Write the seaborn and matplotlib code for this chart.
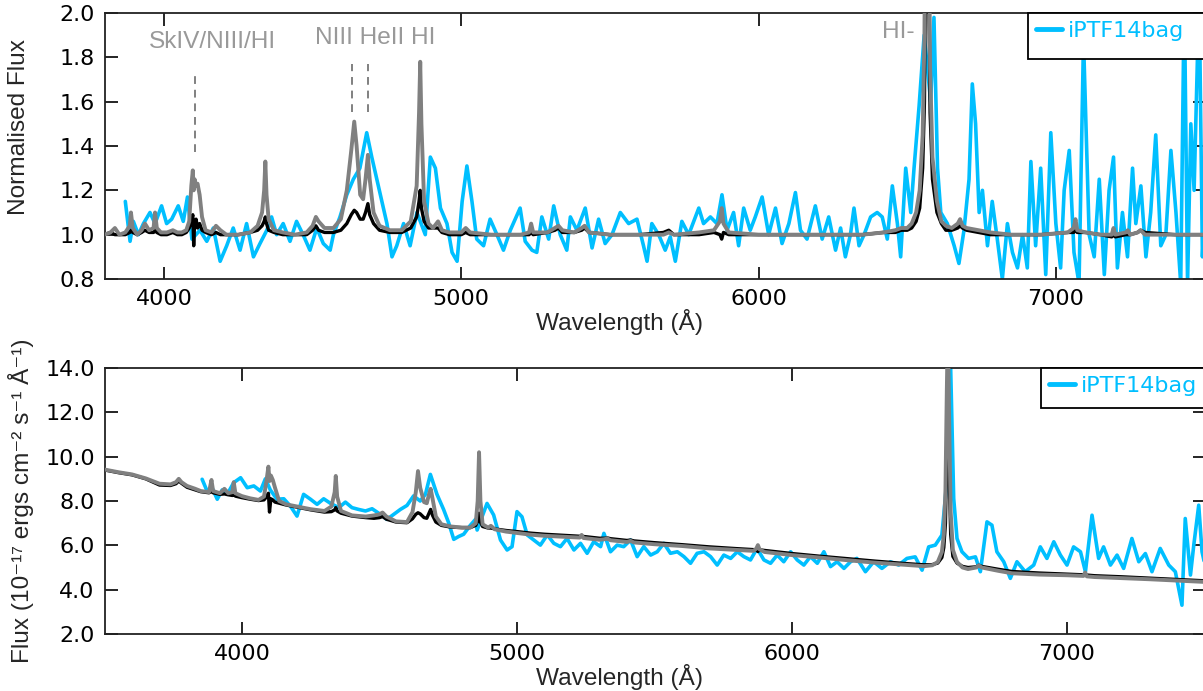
import matplotlib
matplotlib.use("Agg")
import matplotlib.pyplot as plt
from matplotlib.patches import Rectangle
import seaborn as sns

# ---------------- data: top panel (normalised) ----------------
top_obs_wl = [3870, 3886, 3897, 3914, 3931, 3953, 3970, 3992, 4009, 4026, 4048, 4065, 4079, 4094, 4121, 4144,
              4166, 4189, 4211, 4233, 4256, 4278, 4301, 4323, 4346, 4362, 4379, 4401, 4424, 4446, 4468, 4491,
              4514, 4536, 4559, 4570, 4592, 4615, 4637, 4659, 4682, 4699, 4716, 4733, 4750, 4767, 4783, 4806,
              4828, 4851, 4879, 4896, 4913, 4930, 4952, 4969, 4986, 5003, 5019, 5036, 5052, 5075, 5097, 5120,
              5142, 5165, 5198, 5215, 5238, 5254, 5271, 5294, 5311, 5333, 5355, 5367, 5389, 5417, 5440, 5462,
              5484, 5507, 5535, 5563, 5591, 5613, 5625, 5641, 5664, 5686, 5703, 5720, 5742, 5765, 5799, 5815,
              5838, 5860, 5877, 5894, 5916, 5933, 5950, 5972, 5989, 6012, 6034, 6057, 6079, 6102, 6124, 6141,
              6163, 6191, 6214, 6236, 6259, 6276, 6292, 6309, 6321, 6338, 6355, 6377, 6399, 6416, 6433, 6450,
              6467, 6478, 6495, 6512, 6523, 6540, 6557, 6579, 6590, 6602, 6613, 6635, 6658, 6674, 6691, 6708,
              6719, 6730, 6742, 6753, 6770, 6786, 6803, 6820, 6837, 6854, 6871, 6888, 6904, 6916, 6932, 6949,
              6966, 6983, 7000, 7016, 7028, 7045, 7061, 7078, 7093, 7112, 7129, 7146, 7163, 7179, 7194, 7207,
              7224, 7241, 7258, 7269, 7286, 7303, 7319, 7336, 7353, 7370, 7387, 7404, 7420, 7432, 7443, 7454,
              7465, 7482, 7493, 7500]
top_obs_flux = [1.15, 0.97, 1.06, 1.00, 1.05, 1.10, 1.05, 1.13, 1.05, 1.07, 1.13, 1.06, 1.17, 0.98, 1.02, 0.97,
                1.03, 0.88, 0.95, 1.03, 0.93, 1.05, 0.90, 0.96, 1.02, 1.08, 1.00, 1.05, 0.97, 1.06, 1.00, 0.93,
                1.03, 0.96, 0.93, 1.00, 1.08, 1.18, 1.25, 1.30, 1.46, 1.35, 1.25, 1.15, 1.05, 0.90, 0.95, 1.05,
                0.95, 1.10, 1.00, 1.35, 1.30, 1.12, 1.05, 0.92, 0.88, 1.15, 1.31, 1.15, 0.98, 0.95, 1.07, 1.00,
                0.93, 1.02, 1.12, 0.97, 0.93, 0.92, 1.08, 0.98, 1.13, 1.00, 0.93, 1.08, 1.02, 1.12, 0.94, 1.07,
                0.96, 1.00, 1.10, 1.05, 1.07, 0.95, 0.88, 1.05, 1.00, 0.93, 0.99, 0.88, 1.06, 1.00, 1.12, 1.05,
                1.08, 1.05, 1.18, 1.02, 1.10, 0.95, 1.12, 1.02, 1.08, 1.17, 1.00, 1.12, 0.96, 1.05, 1.19, 1.02,
                0.98, 1.13, 0.98, 1.08, 0.93, 1.03, 0.90, 1.00, 1.12, 0.95, 1.00, 1.08, 1.10, 1.08, 0.98, 1.22,
                1.05, 0.90, 1.30, 1.10, 1.30, 1.58, 1.90, 1.60, 1.98, 1.30, 1.10, 1.05, 0.95, 0.87, 1.02, 1.25,
                1.68, 1.50, 1.10, 1.20, 0.95, 1.15, 0.98, 0.80, 1.05, 0.92, 0.85, 1.00, 0.85, 1.33, 0.95, 1.30,
                0.82, 1.46, 1.05, 0.85, 1.20, 1.38, 0.92, 0.78, 1.88, 1.00, 0.90, 1.25, 0.82, 1.20, 1.35, 0.85,
                1.10, 0.90, 1.30, 1.05, 1.22, 0.90, 1.10, 1.45, 0.95, 1.00, 1.38, 1.10, 0.78, 2.10, 0.78, 1.50,
                1.20, 2.10, 0.90, 1.10]

top_mod_wl = [3800, 3820, 3835, 3850, 3870, 3885, 3889, 3895, 3910, 3925, 3936, 3950, 3965, 3970, 3976, 3990,
              4010, 4030, 4045, 4060, 4075, 4085, 4092, 4097, 4100, 4103, 4108, 4113, 4120, 4128, 4140, 4160,
              4175, 4190, 4210, 4250, 4290, 4315, 4330, 4337, 4341, 4345, 4352, 4370, 4400, 4440, 4480, 4500,
              4511, 4520, 4540, 4570, 4595, 4615, 4630, 4640, 4648, 4660, 4670, 4678, 4686, 4692, 4705, 4725,
              4760, 4800, 4830, 4850, 4858, 4862, 4866, 4875, 4890, 4905, 4922, 4935, 4960, 5000, 5015, 5030,
              5100, 5200, 5228, 5235, 5242, 5290, 5315, 5327, 5340, 5380, 5405, 5415, 5430, 5500, 5600, 5680,
              5698, 5715, 5800, 5850, 5870, 5876, 5882, 5900, 6000, 6200, 6350, 6420, 6460, 6480, 6500, 6515,
              6530, 6542, 6552, 6558, 6563, 6567, 6571, 6577, 6585, 6600, 6615, 6630, 6650, 6670, 6678, 6686,
              6700, 6740, 6780, 6850, 6950, 7040, 7060, 7066, 7072, 7100, 7150, 7188, 7194, 7200, 7235, 7242,
              7250, 7275, 7285, 7300, 7400, 7500]
top_mod_black = [1.00, 1.01, 1.00, 1.00, 1.00, 1.01, 1.02, 1.01, 1.00, 1.01, 1.02, 1.01, 1.01, 1.02, 1.01, 1.00,
                 1.00, 1.01, 1.00, 1.00, 1.01, 1.03, 1.06, 1.09, 0.95, 1.05, 1.07, 1.03, 1.05, 1.02, 1.01, 1.00,
                 1.01, 1.00, 1.00, 1.00, 1.01, 1.02, 1.04, 1.06, 1.08, 1.05, 1.02, 1.01, 1.00, 1.00, 1.00, 1.02,
                 1.04, 1.02, 1.01, 1.01, 1.02, 1.05, 1.09, 1.11, 1.10, 1.07, 1.07, 1.10, 1.14, 1.09, 1.05, 1.02,
                 1.01, 1.01, 1.03, 1.08, 1.15, 1.20, 1.12, 1.06, 1.03, 1.03, 1.03, 1.01, 1.00, 1.00, 1.01, 1.00,
                 1.00, 1.00, 1.00, 1.01, 1.00, 1.01, 1.02, 1.03, 1.01, 1.01, 1.02, 1.03, 1.01, 1.00, 1.00, 1.01,
                 1.02, 1.00, 1.00, 1.01, 1.00, 0.98, 1.01, 1.00, 1.00, 1.00, 1.00, 1.01, 1.01, 1.02, 1.02, 1.03,
                 1.06, 1.12, 1.30, 1.60, 2.40, 2.80, 2.30, 1.55, 1.25, 1.10, 1.05, 1.02, 1.02, 1.03, 1.04, 1.03,
                 1.02, 1.01, 1.00, 1.00, 1.00, 1.01, 1.01, 1.02, 1.01, 1.01, 1.00, 0.99, 1.00, 0.99, 1.00, 1.00,
                 1.00, 1.01, 1.02, 1.01, 1.00, 1.00]
top_mod_grey = [1.00, 1.01, 1.03, 1.00, 1.01, 1.04, 1.10, 1.03, 1.00, 1.02, 1.05, 1.02, 1.03, 1.10, 1.03, 1.01,
                1.01, 1.02, 1.01, 1.01, 1.02, 1.06, 1.22, 1.29, 1.20, 1.25, 1.22, 1.23, 1.18, 1.08, 1.02, 1.01,
                1.04, 1.02, 1.00, 1.00, 1.01, 1.04, 1.10, 1.20, 1.33, 1.18, 1.07, 1.02, 1.01, 1.00, 1.01, 1.04,
                1.08, 1.06, 1.03, 1.03, 1.07, 1.20, 1.38, 1.51, 1.40, 1.18, 1.16, 1.25, 1.36, 1.25, 1.10, 1.04,
                1.02, 1.02, 1.06, 1.22, 1.55, 1.78, 1.50, 1.15, 1.05, 1.03, 1.06, 1.02, 1.01, 1.01, 1.03, 1.01,
                1.00, 1.00, 1.01, 1.05, 1.01, 1.01, 1.03, 1.04, 1.02, 1.01, 1.03, 1.04, 1.01, 1.00, 1.00, 1.00,
                1.01, 1.00, 1.01, 1.02, 1.06, 1.12, 1.05, 1.01, 1.00, 1.00, 1.00, 1.01, 1.02, 1.03, 1.03, 1.05,
                1.10, 1.20, 1.45, 1.90, 3.00, 3.50, 2.80, 1.75, 1.35, 1.15, 1.06, 1.04, 1.03, 1.05, 1.07, 1.04,
                1.03, 1.02, 1.01, 1.00, 1.00, 1.01, 1.03, 1.07, 1.02, 1.01, 1.00, 1.00, 1.03, 1.00, 1.01, 1.02,
                1.00, 1.01, 1.02, 1.00, 1.00, 1.00]

# ---------------- data: bottom panel (flux) ----------------
bot_obs_wl = [3855, 3873, 3891, 3910, 3928, 3946, 3970, 3995, 4019, 4043, 4067, 4085, 4103, 4127, 4152, 4176,
              4200, 4224, 4249, 4273, 4297, 4321, 4352, 4376, 4400, 4424, 4449, 4473, 4503, 4527, 4552, 4576,
              4600, 4624, 4648, 4667, 4685, 4709, 4733, 4752, 4770, 4788, 4806, 4830, 4849, 4855, 4891, 4915,
              4940, 4964, 4982, 5000, 5018, 5037, 5061, 5085, 5110, 5134, 5158, 5182, 5207, 5231, 5255, 5279,
              5304, 5316, 5340, 5364, 5388, 5413, 5437, 5461, 5486, 5510, 5534, 5558, 5583, 5607, 5631, 5655,
              5680, 5704, 5728, 5752, 5777, 5801, 5825, 5849, 5873, 5898, 5922, 5946, 5970, 5995, 6019, 6043,
              6067, 6092, 6116, 6140, 6164, 6189, 6213, 6236, 6267, 6297, 6327, 6358, 6388, 6418, 6448, 6473,
              6497, 6521, 6545, 6564, 6576, 6588, 6600, 6618, 6642, 6667, 6685, 6709, 6727, 6745, 6770, 6794,
              6818, 6848, 6879, 6903, 6927, 6952, 6976, 7000, 7024, 7049, 7067, 7091, 7115, 7133, 7158, 7182,
              7206, 7236, 7261, 7285, 7309, 7339, 7370, 7394, 7418, 7430, 7449, 7461, 7479, 7491, 7500]
bot_obs_flux = [8.98, 8.45, 8.60, 8.08, 8.50, 8.30, 8.83, 9.05, 8.60, 8.68, 8.45, 9.00, 8.50, 8.08, 8.10, 7.77,
                7.32, 8.30, 8.08, 7.85, 8.10, 7.90, 7.70, 7.95, 7.70, 7.62, 7.55, 7.65, 7.40, 7.17, 7.40, 7.62,
                7.80, 8.23, 8.00, 8.30, 9.20, 8.30, 7.62, 7.00, 6.27, 6.40, 6.50, 6.90, 7.17, 6.69, 7.89, 7.37,
                6.24, 5.79, 5.94, 7.52, 7.29, 6.47, 6.24, 6.01, 6.47, 6.09, 5.94, 6.31, 5.79, 6.09, 5.64, 6.16,
                5.94, 6.54, 5.71, 6.01, 5.94, 6.24, 5.49, 5.94, 5.56, 5.71, 6.09, 5.64, 5.71, 5.49, 5.19, 5.64,
                5.71, 5.49, 5.11, 5.56, 5.41, 5.71, 5.49, 5.34, 5.86, 5.34, 5.19, 5.56, 5.26, 5.71, 5.34, 5.11,
                5.49, 5.19, 5.71, 5.04, 5.26, 4.96, 5.26, 5.41, 4.81, 5.26, 4.96, 5.26, 5.11, 5.41, 5.48, 4.88,
                5.93, 6.01, 6.46, 9.00, 14.50, 8.11, 6.31, 5.71, 5.41, 5.48, 4.81, 7.06, 6.91, 5.71, 5.26, 4.51,
                5.26, 4.81, 5.11, 5.93, 5.41, 6.16, 5.56, 5.11, 5.93, 5.71, 4.81, 7.36, 5.41, 5.93, 5.11, 5.56,
                4.96, 6.31, 5.26, 5.63, 4.81, 5.86, 5.11, 4.81, 3.30, 7.21, 4.66, 6.01, 7.81, 5.71, 5.20]

bot_mod_wl = [3500, 3550, 3600, 3650, 3700, 3740, 3760, 3770, 3780, 3800, 3830, 3850, 3880, 3889, 3895, 3920,
              3936, 3950, 3965, 3970, 3976, 4000, 4030, 4060, 4080, 4090, 4096, 4100, 4105, 4112, 4120, 4135,
              4160, 4200, 4250, 4300, 4325, 4337, 4341, 4346, 4360, 4400, 4450, 4480, 4500, 4511, 4525, 4560,
              4600, 4620, 4632, 4640, 4648, 4662, 4672, 4680, 4686, 4693, 4705, 4725, 4760, 4800, 4830, 4850,
              4857, 4862, 4867, 4875, 4895, 4905, 4920, 4960, 5000, 5050, 5100, 5200, 5228, 5235, 5242, 5300,
              5320, 5327, 5340, 5400, 5413, 5425, 5500, 5600, 5700, 5800, 5860, 5870, 5876, 5882, 5900, 6000,
              6100, 6200, 6300, 6400, 6480, 6510, 6530, 6545, 6552, 6558, 6563, 6567, 6571, 6577, 6585, 6600,
              6620, 6640, 6670, 6679, 6690, 6750, 6800, 6900, 7000, 7060, 7066, 7072, 7100, 7200, 7300, 7400,
              7500]
bot_mod_black = [9.40, 9.28, 9.18, 9.00, 8.72, 8.70, 8.78, 8.90, 8.80, 8.62, 8.50, 8.42, 8.37, 8.42, 8.37, 8.30,
                 8.32, 8.28, 8.25, 8.30, 8.22, 8.15, 8.08, 8.02, 8.05, 8.20, 8.35, 7.50, 8.10, 8.05, 7.95, 7.90,
                 7.82, 7.72, 7.60, 7.50, 7.52, 7.60, 7.70, 7.55, 7.45, 7.32, 7.25, 7.22, 7.25, 7.30, 7.18, 7.05,
                 7.02, 7.20, 7.40, 7.47, 7.42, 7.25, 7.22, 7.45, 7.62, 7.35, 7.05, 6.90, 6.82, 6.80, 6.80, 6.90,
                 7.10, 7.45, 7.05, 6.85, 6.78, 6.78, 6.74, 6.67, 6.62, 6.55, 6.50, 6.43, 6.41, 6.42, 6.40, 6.32,
                 6.32, 6.34, 6.30, 6.22, 6.24, 6.20, 6.12, 6.03, 5.93, 5.85, 5.81, 5.80, 5.72, 5.80, 5.77, 5.63,
                 5.51, 5.40, 5.29, 5.19, 5.12, 5.13, 5.20, 5.45, 5.90, 7.00, 10.50, 12.00, 9.50, 6.50, 5.50, 5.20,
                 5.05, 5.00, 5.03, 5.10, 5.05, 4.92, 4.82, 4.75, 4.70, 4.67, 4.68, 4.66, 4.63, 4.58, 4.52, 4.46,
                 4.40]
bot_mod_grey = [9.42, 9.30, 9.20, 9.02, 8.78, 8.75, 8.85, 9.00, 8.85, 8.68, 8.55, 8.45, 8.40, 8.95, 8.45, 8.35,
                8.55, 8.35, 8.40, 8.85, 8.35, 8.22, 8.12, 8.05, 8.20, 9.00, 9.55, 8.90, 9.15, 8.95, 8.60, 8.00,
                7.85, 7.75, 7.63, 7.55, 7.75, 8.40, 9.13, 8.20, 7.55, 7.35, 7.30, 7.35, 7.40, 7.48, 7.30, 7.08,
                7.05, 7.50, 8.40, 9.35, 8.60, 7.95, 7.90, 8.30, 8.55, 8.10, 7.30, 6.95, 6.85, 6.80, 6.80, 7.00,
                8.00, 10.20, 8.00, 6.95, 6.80, 6.88, 6.72, 6.62, 6.56, 6.48, 6.43, 6.37, 6.35, 6.47, 6.33, 6.25,
                6.28, 6.32, 6.23, 6.15, 6.20, 6.13, 6.05, 5.97, 5.86, 5.79, 5.75, 5.85, 6.01, 5.82, 5.70, 5.56,
                5.45, 5.33, 5.22, 5.13, 5.06, 5.10, 5.25, 5.70, 6.50, 8.50, 13.00, 16.00, 12.00, 7.50, 5.80, 5.25,
                5.00, 4.93, 5.00, 5.10, 5.00, 4.85, 4.74, 4.68, 4.65, 4.62, 4.78, 4.60, 4.57, 4.52, 4.47, 4.41,
                4.35]

top_xticks = [4000, 5000, 6000, 7000]
top_yticks = [0.8, 1.0, 1.2, 1.4, 1.6, 1.8, 2.0]
bot_yticks = [2.0, 4.0, 6.0, 8.0, 10.0, 12.0, 14.0]

line_labels = ["SkIV/NIII/HI", "NIII HeII HI", "HI-"]
line_label_pos = [(4162, 1.87), (4710, 1.887), (6471, 1.914)]
line_marks = [(4104, 1.373, 1.734), (4633, 1.553, 1.77), (4687, 1.553, 1.77)]
legend_label = "iPTF14bag"

# ---------------- styling ----------------
sns.set_style("ticks")
plt.rcParams["font.family"] = ["DejaVu Sans"]

CYAN = "#00bfff"
GREY = "#808080"
TXTGREY = "#999999"
LABEL_FONT = ["Liberation Sans", "DejaVu Sans"]
W, H = 1203, 691

fig = plt.figure(figsize=(W / 100, H / 100), dpi=100)
axL, axW = 104.5 / W, 1100 / W
ax1 = fig.add_axes([axL, (H - 279) / H, axW, 266 / H])
ax2 = fig.add_axes([axL, (H - 634) / H, axW, 266 / H])


def draw(ax, owl, ofl, mwl, mb, mg):
    sns.lineplot(x=owl, y=ofl, ax=ax, color=CYAN, linewidth=2.6, estimator=None, sort=False,
                 label=legend_label, zorder=2)
    sns.lineplot(x=mwl, y=mb, ax=ax, color="black", linewidth=2.4, estimator=None, sort=False,
                 legend=False, zorder=3)
    sns.lineplot(x=mwl, y=mg, ax=ax, color=GREY, linewidth=2.8, estimator=None, sort=False,
                 legend=False, zorder=4)


draw(ax1, top_obs_wl, top_obs_flux, top_mod_wl, top_mod_black, top_mod_grey)
draw(ax2, bot_obs_wl, bot_obs_flux, bot_mod_wl, bot_mod_black, bot_mod_grey)

ax1.set_xlim(3800, 7500)
ax1.set_ylim(0.8, 2.0)
ax2.set_xlim(3500, 7500)
ax2.set_ylim(2.0, 14.0)

for ax, yt in ((ax1, top_yticks), (ax2, bot_yticks)):
    ax.set_xticks(top_xticks)
    ax.set_xticklabels([str(t) for t in top_xticks])
    ax.set_yticks(yt)
    ax.set_yticklabels(["%.1f" % v for v in yt])
    ax.tick_params(direction="in", top=True, right=True, length=9, width=1.2,
                   labelsize=16, pad=7, colors="black")
    ax.minorticks_off()
    for s in ax.spines.values():
        s.set_linewidth(1.3)
        s.set_color("#222222")
    ax.set_xlabel("Wavelength (Å)", fontsize=17.6, family=LABEL_FONT)
    ax.xaxis.set_label_coords(0.4686, -0.112)
    ax.xaxis.label.set_va("top")

ax1.set_ylabel("Normalised Flux", fontsize=17.6, family=LABEL_FONT)
ax1.yaxis.set_label_coords(-0.068, 0.57)
ax2.set_ylabel("Flux (10\u207b\u00b9\u2077 ergs cm\u207b\u00b2 s\u207b\u00b9 Å\u207b\u00b9)", fontsize=17.6,
               family=LABEL_FONT)
ax2.yaxis.set_label_coords(-0.064, 0.50)

# legends: frame box extends past the right edge of the figure, as in the reference
for ax, lx, ly, by in ((ax1, 1028, 13, 59), (ax2, 1041, 368, 408)):
    rect = Rectangle((lx / W, 1 - by / H), (1300 - lx) / W, (by - ly) / H, transform=fig.transFigure,
                     facecolor="white", edgecolor="black", linewidth=1.3, clip_on=False, zorder=9)
    ax.add_artist(rect)
    leg = ax.legend(loc="upper left", bbox_to_anchor=(lx / W, 1 - ly / H), bbox_transform=fig.transFigure,
                    borderaxespad=0, fontsize=16, handlelength=1.2, handletextpad=0.25, borderpad=0.35,
                    frameon=False)
    for t in leg.get_texts():
        t.set_color(CYAN)
    for h in leg.get_lines():
        h.set_linewidth(3.5)
    leg.set_zorder(10)

for txt, (x, y) in zip(line_labels, line_label_pos):
    ax1.text(x, y, txt, color=TXTGREY, fontsize=17.6, family=LABEL_FONT, ha="center", va="center", zorder=5)
for x, y0, y1 in line_marks:
    ax1.plot([x, x], [y0, y1], color=GREY, linestyle=(0, (4, 3)), linewidth=1.4, zorder=5)

fig.savefig("out.png", dpi=100)
